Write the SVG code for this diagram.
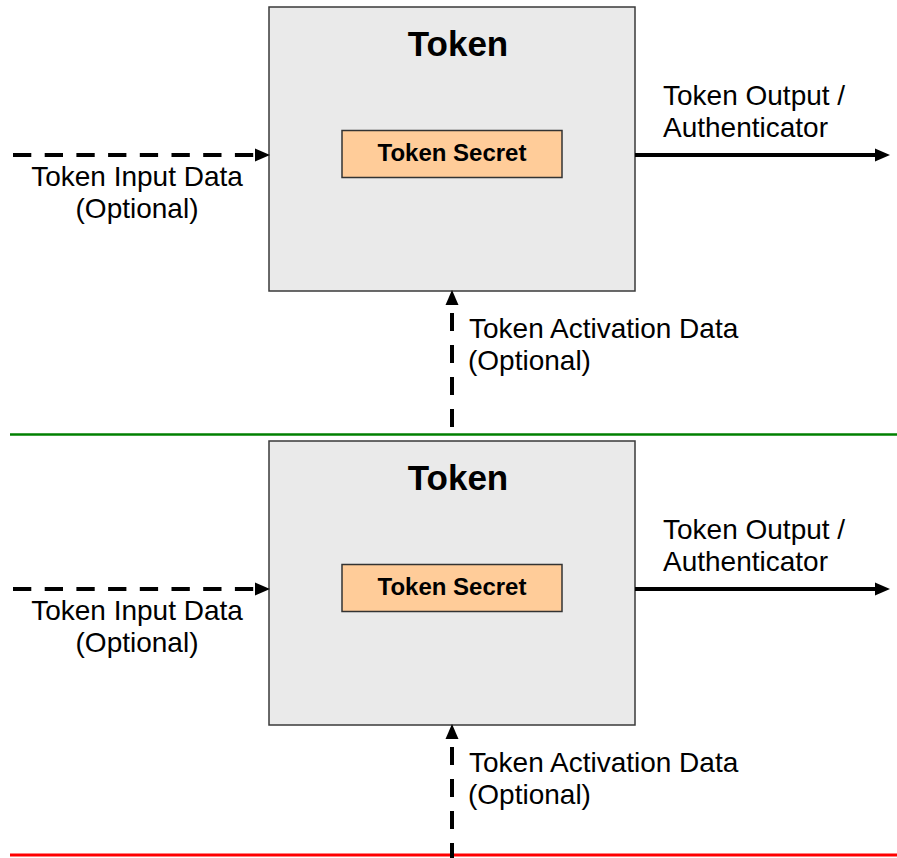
<svg xmlns="http://www.w3.org/2000/svg" width="897" height="858" viewBox="0 0 897 858">
  <style>
    .box { fill: #EAEAEA; stroke: #3A3A3A; stroke-width: 1.5; }
    .secret { fill: #FFCC99; stroke: #333333; stroke-width: 1.5; }
    .title { font-family: "Liberation Sans", Arial, sans-serif; font-weight: bold; font-size: 35px; fill: #000; text-anchor: middle; }
    .stext { font-family: "Liberation Sans", Arial, sans-serif; font-weight: bold; font-size: 24px; fill: #000; text-anchor: middle; }
    .lbl { font-family: "Liberation Sans", Arial, sans-serif; font-size: 28px; fill: #000; }
    .mid { text-anchor: middle; }
    .solid { stroke: #000; stroke-width: 4; fill: none; marker-end: url(#arrow); }
    .dash { stroke: #000; stroke-width: 4; fill: none; stroke-dasharray: 18.3 13.4; marker-end: url(#arrow); }
    .vdash { stroke: #000; stroke-width: 4; fill: none; stroke-dasharray: 18 14; marker-end: url(#arrow); }
  </style>
  <defs>
    <marker id="arrow" markerUnits="userSpaceOnUse" markerWidth="15" markerHeight="14" refX="0" refY="6.5" orient="auto" viewBox="0 0 15 13">
      <path d="M0,0 L15,6.5 L0,13 Z" fill="#000"/>
    </marker>
  </defs>

  <rect width="897" height="858" fill="#FFFFFF"/>

  <!-- separators -->
  <g id="separators">
    <line x1="10" y1="434.5" x2="897" y2="434.5" stroke="#008000" stroke-width="2.5"/>
    <line x1="10" y1="855" x2="897" y2="855" stroke="#FF0000" stroke-width="3"/>
  </g>

  <!-- top section -->
  <g id="token-top">
    <rect class="box" x="269" y="7" width="366" height="284"/>
    <text class="title" x="458" y="56">Token</text>
  </g>
  <g id="secret-top">
    <rect class="secret" x="342" y="130.5" width="220" height="47"/>
    <text class="stext" x="452" y="161">Token Secret</text>
  </g>

  <!-- bottom section -->
  <g id="token-bottom">
    <rect class="box" x="269" y="441" width="366" height="284"/>
    <text class="title" x="458" y="490">Token</text>
  </g>
  <g id="secret-bottom">
    <rect class="secret" x="342" y="564.5" width="220" height="47"/>
    <text class="stext" x="452" y="595">Token Secret</text>
  </g>

  <g id="connectors">
    <path class="dash" d="M13,155 L255,155"/>
    <path class="solid" d="M635,155 L875,155"/>
    <path class="vdash" d="M452,427 L452,305"/>
    <path class="dash" d="M13,589 L255,589"/>
    <path class="solid" d="M635,589 L875,589"/>
    <path class="vdash" d="M452,861 L452,739"/>
  </g>

  <g id="labels">
    <text class="lbl mid" x="137" y="186">Token Input Data</text>
    <text class="lbl mid" x="137" y="218">(Optional)</text>
    <text class="lbl" x="663" y="105">Token Output /</text>
    <text class="lbl" x="663" y="137">Authenticator</text>
    <text class="lbl" x="469" y="338">Token Activation Data</text>
    <text class="lbl" x="468" y="370">(Optional)</text>

    <text class="lbl mid" x="137" y="620">Token Input Data</text>
    <text class="lbl mid" x="137" y="652">(Optional)</text>
    <text class="lbl" x="663" y="539">Token Output /</text>
    <text class="lbl" x="663" y="571">Authenticator</text>
    <text class="lbl" x="469" y="772">Token Activation Data</text>
    <text class="lbl" x="468" y="804">(Optional)</text>
  </g>
</svg>
